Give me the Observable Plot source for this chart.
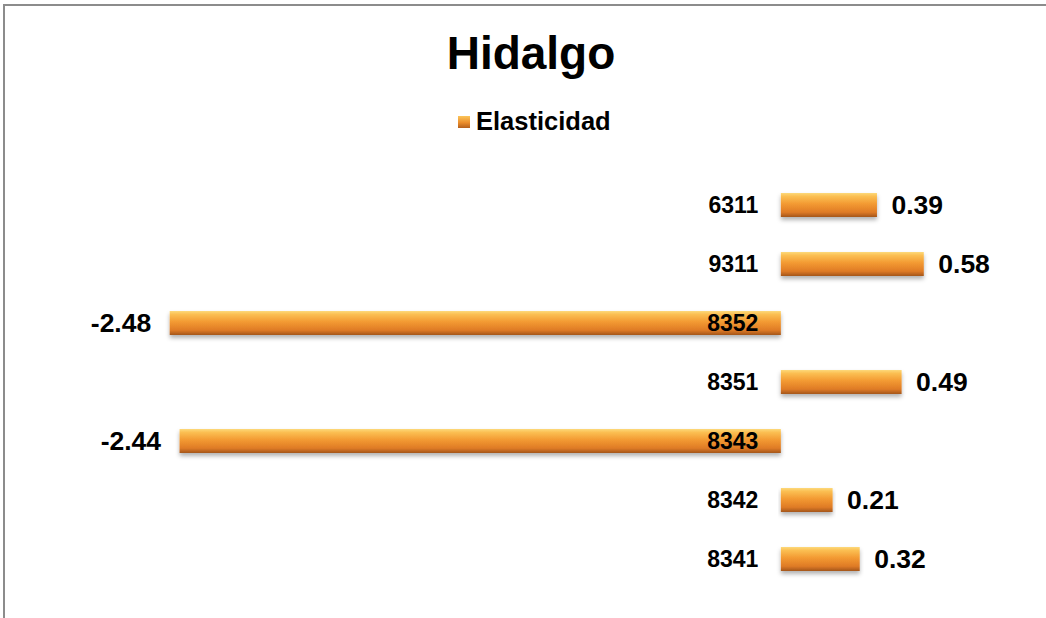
<!DOCTYPE html>
<html>
<head>
<meta charset="utf-8">
<script src="https://cdn.jsdelivr.net/npm/d3@7"></script>
<script src="https://cdn.jsdelivr.net/npm/@observablehq/plot@0.6"></script>
<style>
  html, body { margin: 0; padding: 0; background: #fff; }
  #wrap { position: relative; width: 1046px; height: 618px; overflow: hidden; font-family: "Liberation Sans", Arial, sans-serif; }
  #frame { position: absolute; left: 3px; top: 4px; right: -10px; bottom: -10px; border-top: 2px solid #8c8c8c; border-left: 2px solid #8c8c8c; }
  #title { position: absolute; top: 26px; left: 0; width: 1062px; text-align: center; font-size: 46px; font-weight: bold; color: #000; }
  #legend { position: absolute; top: 107px; left: 458px; font-size: 25.5px; font-weight: bold; color: #000; display: flex; align-items: center; }
  #legend .sw { width: 12px; height: 12px; margin-right: 6px; background: linear-gradient(#fbc55a, #ec8e2c 55%, #b5601c); }
  #chart { position: absolute; top: 150px; left: 0; }
</style>
</head>
<body>
<div id="wrap">
  <div id="frame"></div>
  <div id="title">Hidalgo</div>
  <div id="legend"><span class="sw"></span><span>Elasticidad</span></div>
  <div id="chart"></div>
</div>
<script>
const categories = ["6311", "9311", "8352", "8351", "8343", "8342", "8341"];
const values = [0.39, 0.58, -2.48, 0.49, -2.44, 0.21, 0.32];
const seriesName = "Elasticidad";

const data = categories.map((c, i) => ({ code: c, value: values[i], label: values[i].toFixed(2) }));

const chart = Plot.plot({
  width: 1046,
  height: 468,
  marginTop: 26,
  marginBottom: 29,
  marginLeft: 115.5,
  marginRight: 68,
  x: { domain: [-2.7, 0.8], axis: null },
  y: { domain: categories, padding: 0, axis: null },
  style: { fontFamily: "Liberation Sans, Arial, sans-serif", background: "transparent" },
  marks: [
    Plot.barX(data, { x1: 0, x2: "value", y: "code", fill: "url(#barGrad)", insetTop: 17, insetBottom: 18 }),
    Plot.ruleX([0], { y1: categories[0], y2: categories[categories.length - 1], stroke: "#8c8c8c", strokeWidth: 1.5, insetTop: -30, insetBottom: -30 }),
    Plot.text(data, { x: 0, y: "code", text: "code", dx: -23, textAnchor: "end", fontSize: 23, fontWeight: "bold", fill: "#000" }),
    Plot.text(data.filter(d => d.value >= 0), { x: "value", y: "code", text: "label", dx: 14, textAnchor: "start", fontSize: 26.5, fontWeight: "bold", fill: "#000" }),
    Plot.text(data.filter(d => d.value < 0), { x: "value", y: "code", text: "label", dx: -19, textAnchor: "end", fontSize: 26.5, fontWeight: "bold", fill: "#000" })
  ]
});

const svg = d3.select(chart);
const defs = svg.insert("defs", ":first-child");
const g = defs.append("linearGradient").attr("id", "barGrad").attr("x1", 0).attr("y1", 0).attr("x2", 0).attr("y2", 1);
[["0%", "#fdd97a"], ["14%", "#fbbf52"], ["45%", "#f39a32"], ["80%", "#df7b26"], ["100%", "#a4561a"]]
  .forEach(([o, c]) => g.append("stop").attr("offset", o).attr("stop-color", c));
const f = defs.append("filter").attr("id", "shadow").attr("x", "-5%").attr("y", "-30%").attr("width", "110%").attr("height", "190%");
f.append("feDropShadow").attr("dx", 0).attr("dy", 3).attr("stdDeviation", 2).attr("flood-color", "#000").attr("flood-opacity", 0.3);
svg.selectAll("g[aria-label='bar'] rect").attr("filter", "url(#shadow)");

document.getElementById("chart").appendChild(chart);
</script>
</body>
</html>
